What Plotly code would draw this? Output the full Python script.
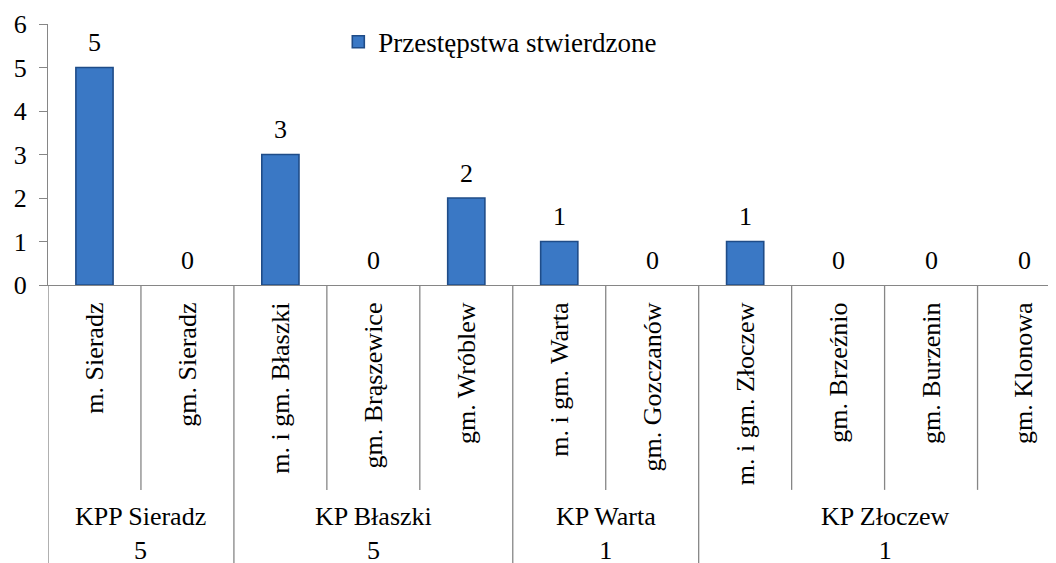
import plotly.graph_objects as go

gminy = ["m. Sieradz", "gm. Sieradz", "m. i gm. Błaszki", "gm. Brąszewice", "gm. Wróblew",
         "m. i gm. Warta", "gm. Gozczanów", "m. i gm. Złoczew", "gm. Brzeźnio",
         "gm. Burzenin", "gm. Klonowa"]
przestepstwa = [5, 0, 3, 0, 2, 1, 0, 1, 0, 0, 0]

komendy = ["KPP Sieradz", "KP Błaszki", "KP Warta", "KP Złoczew"]
komendy_liczba_gmin = [2, 3, 2, 4]
komendy_suma = [5, 5, 1, 1]

FONT = "Liberation Serif"
AXIS = "#868686"

fig = go.Figure()
fig.add_trace(go.Bar(
    x=gminy, y=przestepstwa, name="Przestępstwa stwierdzone", width=0.4,
    marker=dict(color="#3A78C5",
                line=dict(color="#1F4C88", width=[1.6 if v else 0 for v in przestepstwa])),
))

# data labels above the bars
for g, v in zip(gminy, przestepstwa):
    fig.add_annotation(x=g, y=v, text=str(v), showarrow=False, yanchor="middle",
                       yshift=25, font=dict(size=26, color="black", family=FONT))

# divider lines under the category axis
group_edges = [0]
for n in komendy_liczba_gmin:
    group_edges.append(group_edges[-1] + n)
for i in range(len(gminy) + 1):
    bottom = -1.15 if i in group_edges else -0.785
    fig.add_shape(type="line", xref="x", yref="paper", x0=i - 0.5, x1=i - 0.5,
                  y0=0, y1=bottom, line=dict(color=AXIS, width=1.3))

# group labels (name + total)
for k, start, n, s in zip(komendy, group_edges, komendy_liczba_gmin, komendy_suma):
    fig.add_annotation(x=start + (n - 1) / 2, y=-0.952, xref="x", yref="paper",
                       text=f"{k}<br>{s}", showarrow=False, yanchor="middle",
                       font=dict(size=26, color="black", family=FONT))

# page body has an 8px margin, so the figure is 8px smaller than the window
fig.update_layout(
    width=1048, height=555, autosize=False,
    margin=dict(l=40, r=0, t=16, b=278),
    plot_bgcolor="white", paper_bgcolor="white",
    font=dict(family=FONT, size=26, color="black"),
    showlegend=True,
    legend=dict(x=0.288, y=0.93, xanchor="left", yanchor="middle",
                font=dict(size=27, family=FONT), itemwidth=30, bgcolor="rgba(0,0,0,0)"),
    bargap=0.6,
)
fig.update_xaxes(range=[-0.5, 10.344], tickangle=-90, showline=True, linecolor=AXIS,
                 linewidth=1.3, ticks="", showgrid=False, ticklabelstandoff=6,
                 automargin=False, tickfont=dict(size=26, family=FONT))
fig.update_yaxes(range=[0, 6], dtick=1, showline=True, linecolor=AXIS, linewidth=1.3,
                 ticks="outside", ticklen=8, tickcolor=AXIS, showgrid=False,
                 zeroline=False, ticklabelstandoff=7, automargin=False,
                 tickfont=dict(size=26, family=FONT))

fig.write_html("out.html")
